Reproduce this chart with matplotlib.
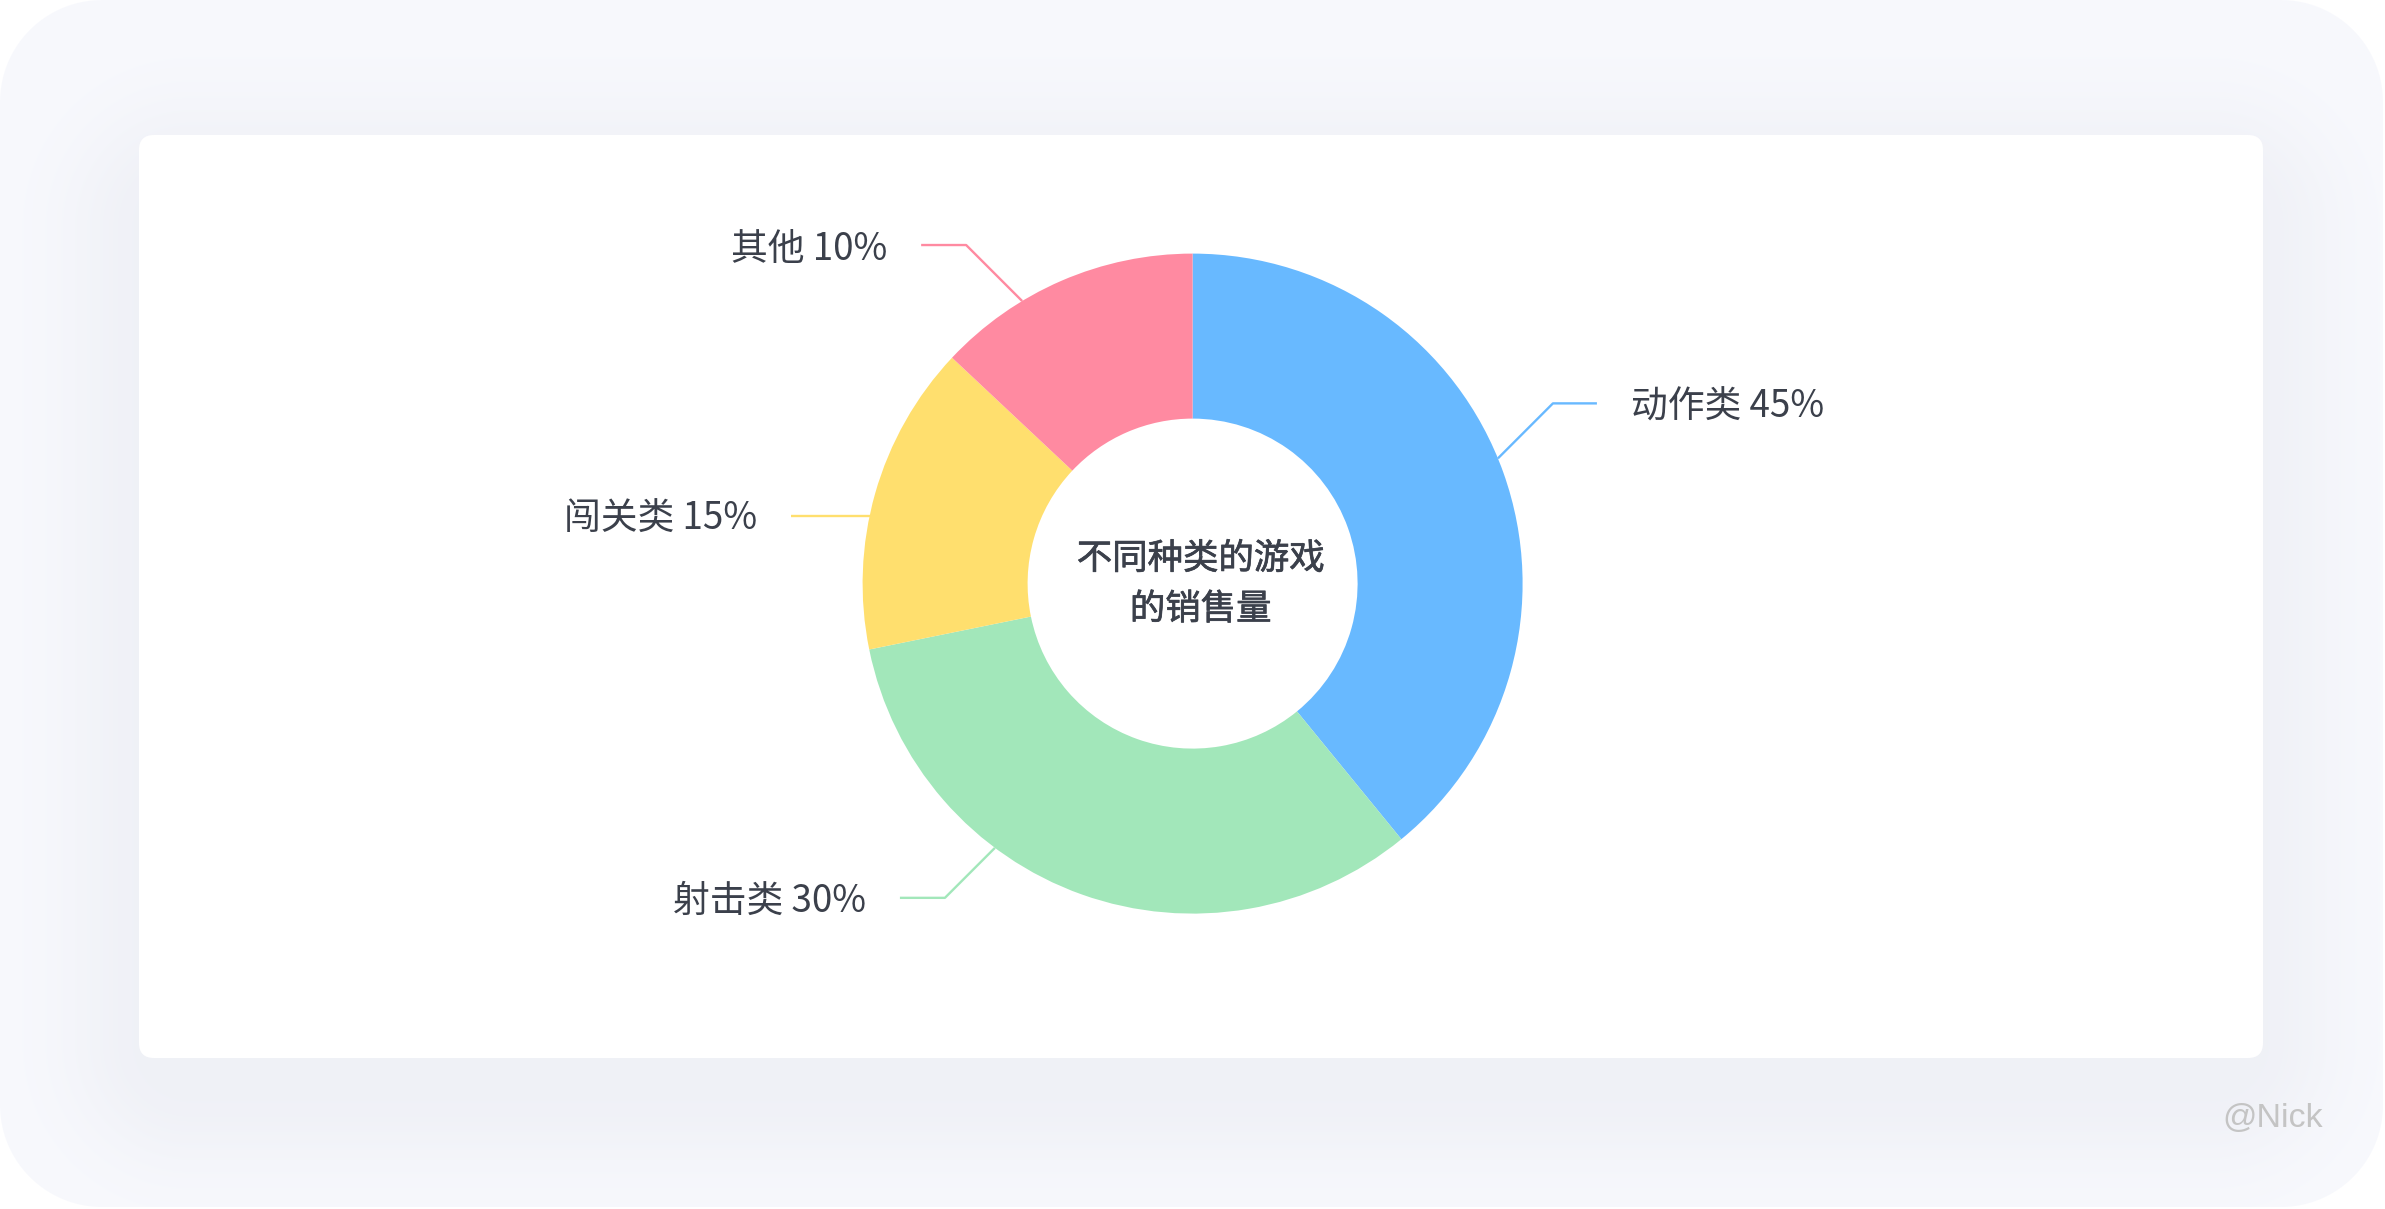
import numpy as np
import matplotlib
matplotlib.use("Agg")
import matplotlib.pyplot as plt
from matplotlib.patches import FancyBboxPatch
import matplotlib.patheffects as pe

plt.rcParams['font.family'] = ['Noto Sans CJK SC', 'DejaVu Sans']

# ---------------- data ----------------
categories = ['动作类', '射击类', '闯关类', '其他']
drawn_shares = [39.1, 32.7, 15.2, 13.0]      # slice sizes as drawn
label_pcts = [45, 30, 15, 10]                # percentages printed in labels
slice_colors = ['#68b9ff', '#a2e7ba', '#ffdf6e', '#ff8aa1']
center_lines = ['不同种类的游戏', '的销售量']
watermark = '@Nick'

# ---------------- layout ----------------
W, H = 2385, 1209
CX, CY_IMG = 1192.6, 583.6
R_OUT, RING_W = 330, 165
LABEL_ANGLE = [22.3, -126.8, 168.1, 121.1]   # where leader lines leave the ring
ELBOW_DY = [55, -50, 0, 56]
H_LEN = [44, 45, 79, 45]
TEXT_GAP = 34
TEXT_COLOR = '#3b404b'

def Y(y_img):
    return H - y_img

CY = Y(CY_IMG)

fig = plt.figure(figsize=(W / 100, H / 100), dpi=100)
fig.patch.set_facecolor('white')
ax = fig.add_axes([0, 0, 1, 1])
ax.axis('off')

# ---------------- background with soft shadow ----------------
yy, xx = np.mgrid[0:H, 0:W].astype(float)
yy += 0.5
xx += 0.5

def sdf_round_box(x0, y0, x1, y1, r):
    cx_, cy_ = (x0 + x1) / 2, (y0 + y1) / 2
    bx, by = (x1 - x0) / 2, (y1 - y0) / 2
    qx = np.abs(xx - cx_) - bx + r
    qy = np.abs(yy - cy_) - by + r
    outside = np.hypot(np.maximum(qx, 0), np.maximum(qy, 0))
    inside = np.minimum(np.maximum(qx, qy), 0)
    return outside + inside - r

d_outer = sdf_round_box(0, 0, 2383, 1207, 102)
a_outer = np.clip(0.5 - d_outer, 0, 1)[..., None]
d_sh = sdf_round_box(150, 185, 2252, 1085, 40)
sigma = 62.0
s = 0.085 * np.exp(-np.maximum(d_sh, 0) ** 2 / (2 * sigma ** 2))
s = s[..., None]
base = np.array([248, 249, 253]) / 255.0
shadow = np.array([150, 155, 180]) / 255.0
col = base * (1 - s) + shadow * s
img = np.ones((H, W, 3)) * (1 - a_outer) + col * a_outer
ax.imshow(img, extent=(0, W, 0, H), origin='upper', zorder=0, interpolation='bilinear')

card = FancyBboxPatch((139, Y(1058)), 2263 - 139, 1058 - 135,
                      boxstyle="round,pad=0,rounding_size=15",
                      fc='white', ec='none', zorder=0.5)
ax.add_patch(card)

# ---------------- donut ----------------
ax.pie(drawn_shares, colors=slice_colors, startangle=90, counterclock=False,
       radius=R_OUT, center=(CX, CY),
       wedgeprops=dict(width=RING_W, linewidth=0, edgecolor='none', zorder=2),
       frame=True)

# ---------------- labels with leader lines ----------------
for i, (cat, pct) in enumerate(zip(categories, label_pcts)):
    th = np.radians(LABEL_ANGLE[i])
    p0x, p0y = CX + R_OUT * np.cos(th), CY + R_OUT * np.sin(th)
    side = 1 if np.cos(th) > 0 else -1
    dy = ELBOW_DY[i]
    p1x, p1y = p0x + side * abs(dy), p0y + dy
    p2x, p2y = p1x + side * H_LEN[i], p1y
    ax.plot([p0x, p1x, p2x], [p0y, p1y, p2y], color=slice_colors[i],
            lw=1.7, zorder=1.5, solid_capstyle='butt')
    ax.text(p2x + side * TEXT_GAP, p2y - 4, f'{cat} {pct}%',
            ha='left' if side > 0 else 'right', va='center',
            fontsize=26.5, color=TEXT_COLOR, zorder=3)

# ---------------- center title ----------------
medium = [pe.withStroke(linewidth=0.5, foreground='#3b404b')]
ax.text(CX + 8, Y(559), center_lines[0], ha='center', va='center',
        fontsize=25.5, color='#3b404b', zorder=3, path_effects=medium)
ax.text(CX + 8, Y(609.5), center_lines[1], ha='center', va='center',
        fontsize=25.5, color='#3b404b', zorder=3, path_effects=medium)

# ---------------- watermark ----------------
ax.text(2222, Y(1127), watermark, ha='left', va='baseline',
        fontsize=24.5, color='#c4c4c4', family=['Liberation Sans', 'DejaVu Sans'], zorder=3)

ax.set_xlim(0, W)
ax.set_ylim(0, H)
ax.set_aspect('auto')

fig.savefig('out.png', dpi=100, facecolor='white')
